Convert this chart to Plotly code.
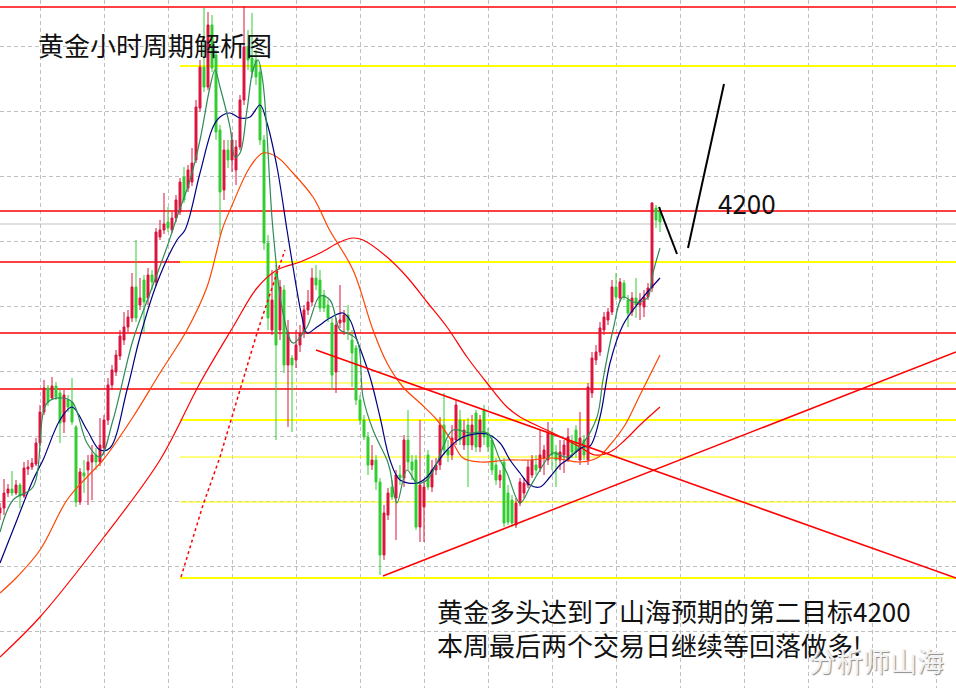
import plotly.graph_objects as go

# ---------------- data (hourly gold candles) ----------------
open_ = [3898, 3903, 3918, 3922, 3918, 3926, 3915, 3942, 3944, 3947,
         3968, 3999, 4023, 4013, 4025, 4018, 3989, 4011, 4009, 3984,
         3909, 3938, 3941, 3949, 3956, 3949, 3963, 3991, 4026, 4039,
         4055, 4071, 4084, 4093, 4124, 4106, 4131, 4113, 4136, 4129,
         4174, 4181, 4189, 4181, 4193, 4199, 4234, 4223, 4229, 4251,
         4303, 4344, 4324, 4386, 4356, 4281, 4221, 4261, 4251, 4241,
         4264, 4311, 4364, 4353, 4351, 4339, 4271, 4168, 4081, 4138,
         4081, 4121, 4046, 4053, 4051, 4066, 4078, 4101, 4109, 4133,
         4131, 4116, 4106, 4088, 4039, 4088, 4089, 4096, 4071, 4063,
         4011, 3991, 3974, 3946, 3951, 3929, 3856, 3896, 3924, 3913,
         3936, 3933, 3971, 3949, 3951, 3884, 3904, 3956, 3924, 3941,
         3946, 3986, 3961, 3956, 3971, 3991, 3966, 3986, 3966, 3998,
         3964, 4001, 3978, 3971, 3946, 3931, 3949, 3918, 3911, 3886,
         3908, 3918, 3926, 3936, 3946, 3943, 3953, 3951, 3978, 3959,
         3951, 3956, 3951, 3969, 3981, 3951, 3971, 3951, 4018, 4051,
         4059, 4081, 4091, 4099, 4124, 4113, 4128, 4111, 4099, 4113,
         4106, 4104, 4114, 4123, 4203, 4199]
high = [3908, 3932, 3927, 3940, 3931, 3928, 3949, 3951, 3953, 3973,
        4006, 4031, 4026, 4034, 4029, 4021, 4021, 4016, 4033, 3986,
        3943, 3951, 3956, 3966, 3963, 3993, 3996, 4033, 4046, 4061,
        4081, 4099, 4101, 4138, 4171, 4133, 4136, 4143, 4141, 4183,
        4191, 4218, 4204, 4199, 4216, 4233, 4244, 4246, 4263, 4311,
        4351, 4403, 4399, 4396, 4361, 4286, 4271, 4271, 4279, 4271,
        4316, 4405, 4381, 4398, 4361, 4346, 4276, 4176, 4141, 4146,
        4131, 4126, 4091, 4056, 4081, 4086, 4106, 4121, 4143, 4146,
        4141, 4121, 4111, 4093, 4093, 4126, 4101, 4106, 4081, 4066,
        4016, 3996, 3979, 3966, 3956, 3933, 3906, 3923, 3931, 3941,
        3946, 3976, 4001, 3956, 3956, 3991, 3931, 3961, 3951, 3953,
        3994, 4018, 3971, 3986, 4011, 4001, 3991, 3993, 3996, 4001,
        3996, 4006, 3983, 3976, 3953, 3941, 3953, 3926, 3916, 3913,
        3933, 3933, 3951, 3956, 3956, 3981, 3966, 3989, 3983, 3966,
        3971, 3971, 3983, 3976, 3986, 3999, 3976, 4028, 4059, 4066,
        4089, 4099, 4103, 4131, 4138, 4133, 4131, 4116, 4119, 4133,
        4118, 4121, 4128, 4209, 4206, 4204]
low = [3891, 3896, 3914, 3915, 3916, 3903, 3913, 3936, 3941, 3945,
       3965, 3996, 4005, 4011, 4011, 3968, 3978, 3999, 3986, 3904,
       3906, 3918, 3906, 3911, 3941, 3945, 3956, 3986, 4021, 4035,
       4051, 4066, 4079, 4089, 4089, 4101, 4078, 4106, 4121, 4125,
       4171, 4177, 4179, 4178, 4189, 4196, 4208, 4219, 4225, 4248,
       4299, 4319, 4321, 4339, 4271, 4176, 4211, 4243, 4239, 4226,
       4261, 4306, 4341, 4333, 4326, 4266, 4161, 4081, 4076, 3971,
       4071, 4038, 3984, 3979, 4043, 4059, 4073, 4096, 4105, 4121,
       4099, 4099, 4089, 4021, 4018, 4083, 4076, 4071, 4024, 4006,
       3986, 3971, 3936, 3941, 3921, 3836, 3851, 3891, 3911, 3871,
       3926, 3924, 3941, 3931, 3881, 3869, 3869, 3921, 3919, 3936,
       3941, 3956, 3949, 3951, 3966, 3966, 3961, 3924, 3961, 3959,
       3959, 3966, 3959, 3936, 3926, 3923, 3884, 3886, 3884, 3883,
       3905, 3913, 3923, 3933, 3936, 3939, 3936, 3946, 3941, 3924,
       3941, 3938, 3949, 3953, 3953, 3946, 3951, 3946, 4013, 4046,
       4055, 4076, 4086, 4096, 4111, 4109, 4111, 4084, 4095, 4093,
       4091, 4094, 4111, 4119, 4183, 4179]
close = [3903, 3918, 3922, 3918, 3926, 3915, 3943, 3944, 3948, 3968,
         3999, 4023, 4009, 4025, 4014, 3988, 4016, 4004, 3989, 3909,
         3939, 3935, 3949, 3956, 3949, 3966, 3991, 4026, 4041, 4056,
         4075, 4084, 4094, 4124, 4093, 4113, 4109, 4136, 4129, 4179,
         4181, 4187, 4183, 4193, 4211, 4229, 4211, 4241, 4248, 4304,
         4344, 4324, 4386, 4343, 4279, 4219, 4261, 4251, 4271, 4264,
         4311, 4364, 4351, 4339, 4334, 4271, 4168, 4093, 4111, 4066,
         4124, 4046, 4079, 4046, 4066, 4078, 4101, 4109, 4133, 4126,
         4103, 4103, 4093, 4036, 4086, 4091, 4096, 4081, 4058, 4011,
         3991, 3974, 3946, 3951, 3929, 3856, 3898, 3918, 3914, 3936,
         3933, 3971, 3949, 3941, 3884, 3926, 3924, 3924, 3941, 3946,
         3986, 3961, 3956, 3973, 4006, 3971, 3981, 3966, 3986, 3964,
         3991, 3974, 3964, 3941, 3931, 3936, 3888, 3889, 3888, 3908,
         3929, 3928, 3944, 3951, 3941, 3956, 3961, 3978, 3956, 3951,
         3959, 3966, 3974, 3959, 3959, 3973, 3956, 4024, 4053, 4059,
         4083, 4094, 4099, 4124, 4114, 4129, 4114, 4098, 4113, 4106,
         4111, 4114, 4123, 4208, 4191, 4189]

# moving averages, sampled along the bar index
ma_fast_x = [0, 3.25, 8.25, 11.75, 15.75, 18.25, 21.75, 25, 28.25, 33.25, 37.5, 41.75, 44.25, 47.5,
             50, 52.5, 53.75, 55, 57.5, 58.75, 60, 61.75, 63.25, 64.5, 65.75, 68.25, 70.75, 73.25,
             76.75, 80, 82.5, 85, 86.75, 89.25, 90.75, 93.25, 96.75, 97.5, 99.25, 101.75, 104.25,
             106.75, 109.25, 110.75, 113.25, 117.5, 121.75, 125, 126.75, 130, 132.5, 135, 138.25,
             141.75, 145.75, 149.25, 150.75, 153.25, 155.75, 158.25, 160, 162, 163.25, 165]
ma_fast_y = [3879, 3911, 3924, 4008, 4013, 4008, 3968, 3954, 3991, 4071, 4118, 4164, 4194, 4231,
             4271, 4324, 4341, 4324, 4284, 4254, 4258, 4301, 4341, 4351, 4328, 4181, 4098, 4068,
             4084, 4115, 4111, 4081, 4078, 4071, 4014, 3981, 3951, 3941, 3908, 3941, 3928,
             3931, 3948, 3964, 3981, 3978, 3978, 3951, 3938, 3908, 3924, 3941, 3958,
             3954, 3968, 3994, 4031, 4081, 4114, 4109, 4109, 4114, 4138, 4163]

ma_mid_x = [0, 3.25, 8.25, 10.75, 15, 18, 21.75, 25, 27.5, 31.75, 35, 39.25, 44.25, 46.25, 50,
            53.25, 55, 57.5, 60, 62.5, 65, 66.75, 69.25, 71.75, 73.25, 75.5, 76.75, 79.25, 82.5,
            85.75, 87.5, 89.25, 92.5, 95, 97.5, 100, 104.25, 106.75, 109.25, 111.75, 115.75,
            121.75, 125, 127.5, 130, 132.5, 135, 137.5, 140, 141.75, 145.75, 147.5, 150, 152.5,
            155.75, 160, 165]
ma_mid_y = [3848, 3881, 3931, 3951, 3991, 4004, 3981, 3961, 3963, 4021, 4074, 4128, 4171, 4181, 4238,
            4284, 4294, 4298, 4293, 4294, 4306, 4288, 4244, 4181, 4144, 4094, 4078, 4084, 4093,
            4098, 4091, 4071, 4034, 3994, 3951, 3931, 3928, 3934, 3948, 3961, 3974,
            3977, 3968, 3951, 3938, 3926, 3924, 3934, 3946, 3951, 3964, 3965, 3994, 4048,
            4086, 4110, 4133]

ma_slow_x = [0, 4.25, 10, 16.75, 21.75, 25.75, 33.25, 40, 46.75, 51.75, 54.25, 55.5, 58.25, 62.5,
             65.75, 69.25, 73.25, 78.25, 80, 82.25, 88.25, 93.25, 96.75, 100.75, 105, 109.25,
             113.25, 115.75, 120, 126.75, 132.5, 138.25, 145, 149.25, 152.5, 156.25, 160, 165]
ma_slow_y = [3818, 3834, 3861, 3911, 3934, 3951, 3994, 4038, 4081, 4124, 4161, 4181, 4208, 4244,
             4258, 4254, 4238, 4214, 4201, 4182, 4141, 4081, 4048, 4024, 4008, 3991,
             3968, 3953, 3949, 3951, 3951, 3953, 3949, 3953, 3966, 3986, 4016, 4056]

ma_long_x = [0, 10, 26, 40, 50, 58.25, 64.25, 69.25, 75, 80, 85, 88.25, 90.75, 96.75, 101.75,
             106.75, 111.75, 116.75, 121.75, 126.75, 130, 138.25, 145, 148.75, 152.5, 156.25, 160, 165]
ma_long_y = [3754, 3794, 3874, 3951, 4028, 4084, 4123, 4141, 4149, 4158, 4169, 4173, 4171, 4154, 4134,
             4109, 4084, 4054, 4028, 4004, 3994, 3978, 3964, 3956, 3959, 3971, 3986, 4004]

# horizontal levels
red_levels = [4404, 4200, 4078, 4022]
red_left_levels = [4149]
gray_levels = [4187]
yellow_levels_bold = [4345, 4149, 3991, 3833]
yellow_levels_thin = [4028, 3954, 3909]
yellow_start = 45

# drawn lines (bar index, price)
trend_down = ([79, 239], [4061, 3833])
trend_up = ([95.75, 239], [3835, 4059])
dotted_x = [45.25, 50.75, 55, 60, 64.25, 69.25, 71.25]
dotted_y = [3834, 3906, 3954, 4021, 4078, 4138, 4161]
pen_down = ([164.75, 169.25], [4204, 4157])
pen_up = ([172, 181], [4163, 4327])

title_text = "黄金小时周期解析图"
level_text = "4200"
note_lines = ["黄金多头达到了山海预期的第二目标4200", "本周最后两个交易日继续等回落做多!"]
watermark = "分析师山海"

# ---------------- figure ----------------
W, H = 956, 688
X_RANGE = [0, 239]
Y_RANGE = [3723, 4411]
FONT = "Noto Sans CJK SC, Noto Sans, sans-serif"

fig = go.Figure()

shapes = []
for lv in red_levels:
    shapes.append(dict(type="line", xref="x", yref="y", x0=X_RANGE[0], x1=X_RANGE[1], y0=lv, y1=lv,
                       line=dict(color="#ff0000", width=1.5), layer="between"))
for lv in red_left_levels:
    shapes.append(dict(type="line", xref="x", yref="y", x0=X_RANGE[0], x1=yellow_start, y0=lv, y1=lv,
                       line=dict(color="#ff0000", width=1.5), layer="between"))
for lv in gray_levels:
    shapes.append(dict(type="line", xref="x", yref="y", x0=X_RANGE[0], x1=X_RANGE[1], y0=lv, y1=lv,
                       line=dict(color="#c0c0c0", width=1), layer="between"))
for lv in yellow_levels_bold:
    shapes.append(dict(type="line", xref="x", yref="y", x0=yellow_start, x1=X_RANGE[1], y0=lv, y1=lv,
                       line=dict(color="#ffff00", width=2), layer="between"))
for lv in yellow_levels_thin:
    shapes.append(dict(type="line", xref="x", yref="y", x0=yellow_start, x1=X_RANGE[1], y0=lv, y1=lv,
                       line=dict(color="#ffff00", width=1), layer="between"))

fig.add_trace(go.Candlestick(
    x=list(range(len(close))), open=open_, high=high, low=low, close=close,
    increasing=dict(line=dict(color="#dc143c", width=1), fillcolor="#dc143c"),
    decreasing=dict(line=dict(color="#32cd32", width=1), fillcolor="#32cd32"),
    whiskerwidth=0, hoverinfo="skip", showlegend=False))

for xs, ys, col in [(ma_long_x, ma_long_y, "#ff0000"), (ma_slow_x, ma_slow_y, "#ff4500"),
                    (ma_mid_x, ma_mid_y, "#000080"), (ma_fast_x, ma_fast_y, "#2e8b57")]:
    fig.add_trace(go.Scatter(x=xs, y=ys, mode="lines", line=dict(color=col, width=1.2, shape="spline"),
                             hoverinfo="skip", showlegend=False))

for (xs, ys) in [trend_down, trend_up]:
    fig.add_trace(go.Scatter(x=xs, y=ys, mode="lines", line=dict(color="#ff0000", width=1.5),
                             hoverinfo="skip", showlegend=False))
fig.add_trace(go.Scatter(x=dotted_x, y=dotted_y, mode="lines",
                         line=dict(color="#ff0000", width=1.5, dash="3px,3px"),
                         hoverinfo="skip", showlegend=False))
for (xs, ys) in [pen_down, pen_up]:
    fig.add_trace(go.Scatter(x=xs, y=ys, mode="lines", line=dict(color="#000000", width=2),
                             hoverinfo="skip", showlegend=False))


def px(xp):
    return xp / W


def py(yp):
    return 1 - yp / H


annotations = [
    dict(text=title_text, x=px(36), y=py(44), xanchor="left", yanchor="middle",
         font=dict(family=FONT, size=26, color="#111111")),
    dict(text=level_text, x=px(716), y=py(203), xanchor="left", yanchor="middle",
         font=dict(family=FONT, size=26, color="#111111")),
    dict(text=note_lines[0], x=px(435), y=py(610), xanchor="left", yanchor="middle",
         font=dict(family=FONT, size=26, color="#111111")),
    dict(text=note_lines[1], x=px(435), y=py(644), xanchor="left", yanchor="middle",
         font=dict(family=FONT, size=26, color="#111111")),
    dict(text=watermark, x=px(807), y=py(660), xanchor="left", yanchor="middle",
         font=dict(family=FONT, size=27, color="#f2f2f2", shadow="1px 1px 1px #8c8c8c")),
]
for a in annotations:
    a.update(xref="paper", yref="paper", showarrow=False)

fig.update_layout(
    width=W, height=H, margin=dict(l=0, r=0, t=0, b=0),
    paper_bgcolor="white", plot_bgcolor="white",
    shapes=shapes, annotations=annotations, showlegend=False, hovermode=False,
    xaxis=dict(range=X_RANGE, showgrid=True, gridcolor="#c0c0c0", griddash="4px,3px", gridwidth=1,
               tick0=10, dtick=16, showticklabels=False, zeroline=False, rangeslider=dict(visible=False),
               fixedrange=True, showline=False, ticks=""),
    yaxis=dict(range=Y_RANGE, showgrid=True, gridcolor="#c0c0c0", griddash="4px,3px", gridwidth=1,
               tick0=4365, dtick=65, showticklabels=False, zeroline=False, fixedrange=True,
               showline=False, ticks=""),
)

fig.write_html("out.html", config={"displayModeBar": False, "staticPlot": True},
               post_script="document.body.style.margin='0';document.body.style.padding='0';")
